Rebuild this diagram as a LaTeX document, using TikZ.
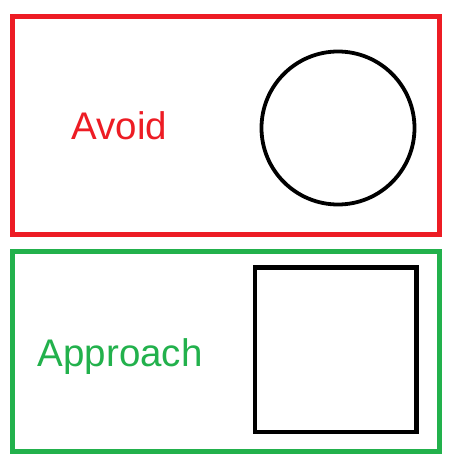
\documentclass[tikz,border=0pt]{standalone}
\usepackage{fontspec}
\setmainfont{Liberation Sans}
\definecolor{pred}{RGB}{237,28,36}
\definecolor{pgreen}{RGB}{34,177,76}
\begin{document}
\begin{tikzpicture}[x=1pt,y=-1pt,
  frame/.style={line width=5pt},
  shapeline/.style={draw=black,line width=4.5pt},
  label/.style={anchor=base west,inner sep=0pt,font=\fontsize{38.5}{46}\selectfont}]
\useasboundingbox[fill=white] (0,0) rectangle (453,466);
\draw[frame,pred] (12.5,16.5) rectangle (439,234.5);
\draw[frame,pgreen] (12.5,251) rectangle (439,451);
\node[label,text=pred] (avoid) at (71.5,139.3) {Avoid};
\node[label,text=pgreen] (approach) at (37.5,366.7) {Approach};
\node[draw=black,line width=3.8pt,circle,minimum size=153pt,inner sep=0pt] (circ) at (338,128) {};
\draw[shapeline] (255,267.5) rectangle (416.5,432);
\end{tikzpicture}
\end{document}
